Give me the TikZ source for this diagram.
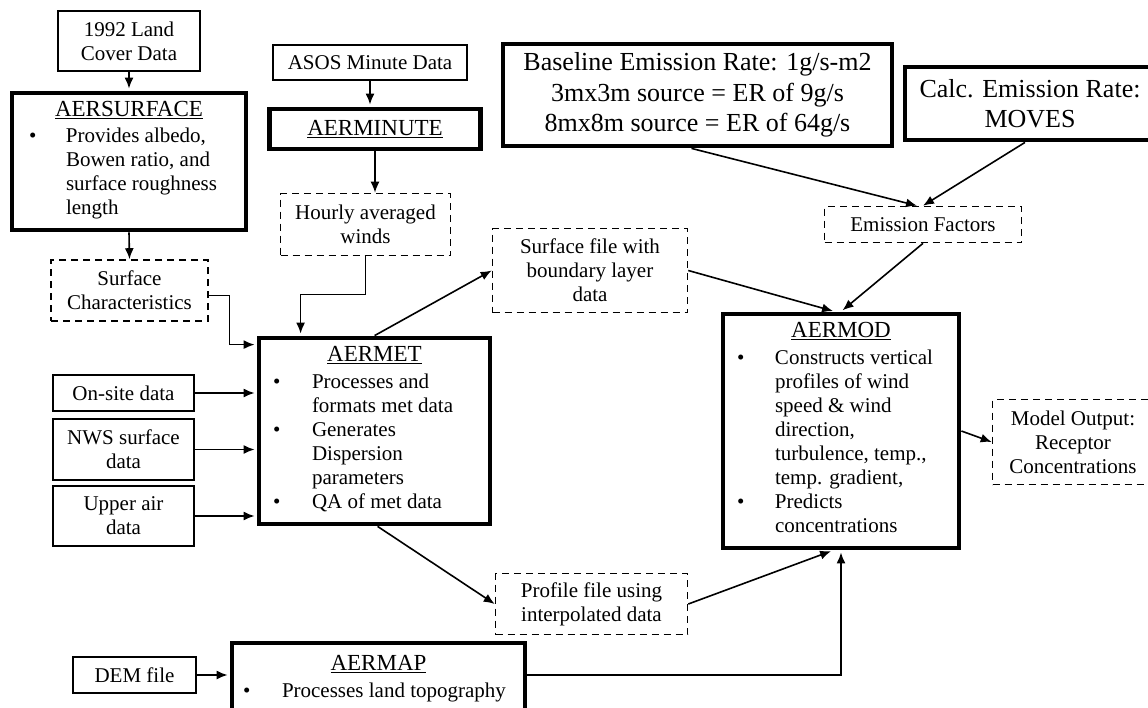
\documentclass[tikz,border=0pt]{standalone}
\usepackage{fontspec}
\setmainfont{Liberation Serif}
\usetikzlibrary{calc,
	positioning,
	arrows.meta}
\newcommand{\nfont}{\fontsize{21}{24}\selectfont}
\newcommand{\lgfont}{\fontsize{26}{30.5}\selectfont}
\newcommand{\ttl}[1]{{\fontsize{23}{26}\selectfont\underline{#1}}}
\newcommand{\blist}[3]{\begin{tabular}[t]{@{}p{#1}@{}p{#2}@{}}#3\end{tabular}}
\tikzstyle{bx}=[draw, line width=1.6pt, inner sep=0, align=center, font=\nfont]
\tikzstyle{tk}=[draw, line width=4.8pt, inner sep=0, align=center, font=\nfont]
\tikzstyle{ds}=[draw, line width=1.6pt, dash pattern=on 7pt off 5pt, inner sep=0, align=center, font=\nfont]
\tikzstyle{ar}=[line width=1.6pt, -{Latex[length=11pt,width=9pt]}]
\tikzstyle{art}=[ar, shorten >=2pt]

\begin{document}
\begin{tikzpicture}[x=1pt, y=-1pt]
	\fill[white] (0,0) rectangle (1148,707);
	\useasboundingbox (0,0) rectangle (1148,707);
	\node[bx, minimum width=142, minimum height=60] (land) at (129,41) {1992 Land\\Cover Data};
	\node[tk, minimum width=234, minimum height=137] (aersurf) at (129,161.5) {\ttl{AERSURFACE}\\[2pt]\blist{37pt}{163pt}{\textbullet & Provides albedo,\\ & Bowen ratio, and\\ & surface roughness\\ & length}};
	\node[ds, minimum width=157, minimum height=61] (surfchar) at (129.5,290.5) {Surface\\Characteristics};
	\node[bx, minimum width=194, minimum height=35] (asos) at (370,62.5) {ASOS Minute Data};
	\node[tk, minimum width=211, minimum height=40] (aerminute) at (375,129) {\ttl{AERMINUTE}};
	\node[ds, minimum width=170, minimum height=62] (hourly) at (365.5,224.5) {Hourly averaged\\winds};
	\node[ds, minimum width=195, minimum height=84] (surffile) at (590,270.5) {Surface file with\\boundary layer\\data};
	\node[tk, minimum width=389, minimum height=102, font=\lgfont] (baseline) at (697.5,95) {Baseline Emission Rate: 1g/s-m2\\3mx3m source = ER of 9g/s\\8mx8m source = ER of 64g/s};
	\node[tk, minimum width=250, minimum height=73, font=\lgfont] (calc) at (1030,103.5) {Calc. Emission Rate:\\MOVES};
	\node[ds, minimum width=197, minimum height=36] (ef) at (923,224.5) {Emission Factors};
	\node[tk, minimum width=231, minimum height=186] (aermet) at (374.5,431) {\ttl{AERMET}\\[3pt]\blist{39pt}{164pt}{\textbullet & Processes and\\ & formats met data\\ \textbullet & Generates\\ & Dispersion\\ & parameters\\ \textbullet & QA of met data}};
	\node[bx, minimum width=141, minimum height=36] (onsite) at (123.5,393) {On-site data};
	\node[bx, minimum width=141, minimum height=61] (nws) at (123.5,449.5) {NWS surface\\data};
	\node[bx, minimum width=141, minimum height=60] (upper) at (123.5,516) {Upper air\\data};
	\node[bx, minimum width=123, minimum height=36] (dem) at (134.5,675) {DEM file};
	\node[tk, minimum width=293, minimum height=74] (aermap) at (378.5,680) {\ttl{AERMAP}\\[3pt]\blist{39pt}{232pt}{\textbullet & Processes land topography}};
	\node[ds, minimum width=192, minimum height=61] (profile) at (591.5,604) {Profile file using\\interpolated data};
	\node[tk, minimum width=236, minimum height=234] (aermod) at (841,431) {\ttl{AERMOD}\\[3pt]\blist{38pt}{170pt}{\textbullet & Constructs vertical\\ & profiles of wind\\ & speed \& wind\\ & direction,\\ & turbulence, temp.,\\ & temp. gradient,\\ \textbullet & Predicts\\ & concentrations}};
	\node[ds, minimum width=161, minimum height=85] (model) at (1073,442) {Model Output:\\Receptor\\Concentrations};

	\draw[art] (land.south) -- (aersurf.north);
	\draw[ar] (aersurf.south) -- (surfchar.north);
	\draw[art] ([yshift=-5pt]surfchar.east) -| ([xshift=-27pt,yshift=-9pt]aermet.north west) -- ([yshift=-9pt]aermet.north west);
	\draw[art] (asos.south) -- (asos.south |- aerminute.north);
	\draw[ar] (aerminute.south) -- (aerminute.south |- hourly.north);
	\draw[art] (hourly.south) -- ++(0,38) -| ([xshift=44pt]aermet.north west);
	\draw[ar] ([xshift=118pt]aermet.north west) -- (surffile.west);
	\draw[ar] ([xshift=121pt]aermet.south west) -- (profile.west);
	\draw[art] (onsite.east) -- (onsite.east -| aermet.west);
	\draw[art] (nws.east) -- (nws.east -| aermet.west);
	\draw[art] (upper.east) -- (upper.east -| aermet.west);
	\draw[art] (dem.east) -- (dem.east -| aermap.west);
	\draw[ar] ([xshift=-6pt]baseline.south) -- ([xshift=-6pt]ef.north);
	\draw[ar] ([xshift=-5pt]calc.south) -- (ef.north);
	\draw[art] (ef.south) -- (aermod.north);
	\draw[art] (surffile.east) -- ([xshift=-6pt]aermod.north);
	\draw[art] (profile.east) -- ([xshift=-8pt]aermod.south);
	\draw[art] ([yshift=5pt]aermap.east) -| (aermod.south);
	\draw[ar] (aermod.east) -- (model.west);
\end{tikzpicture}
\end{document}
